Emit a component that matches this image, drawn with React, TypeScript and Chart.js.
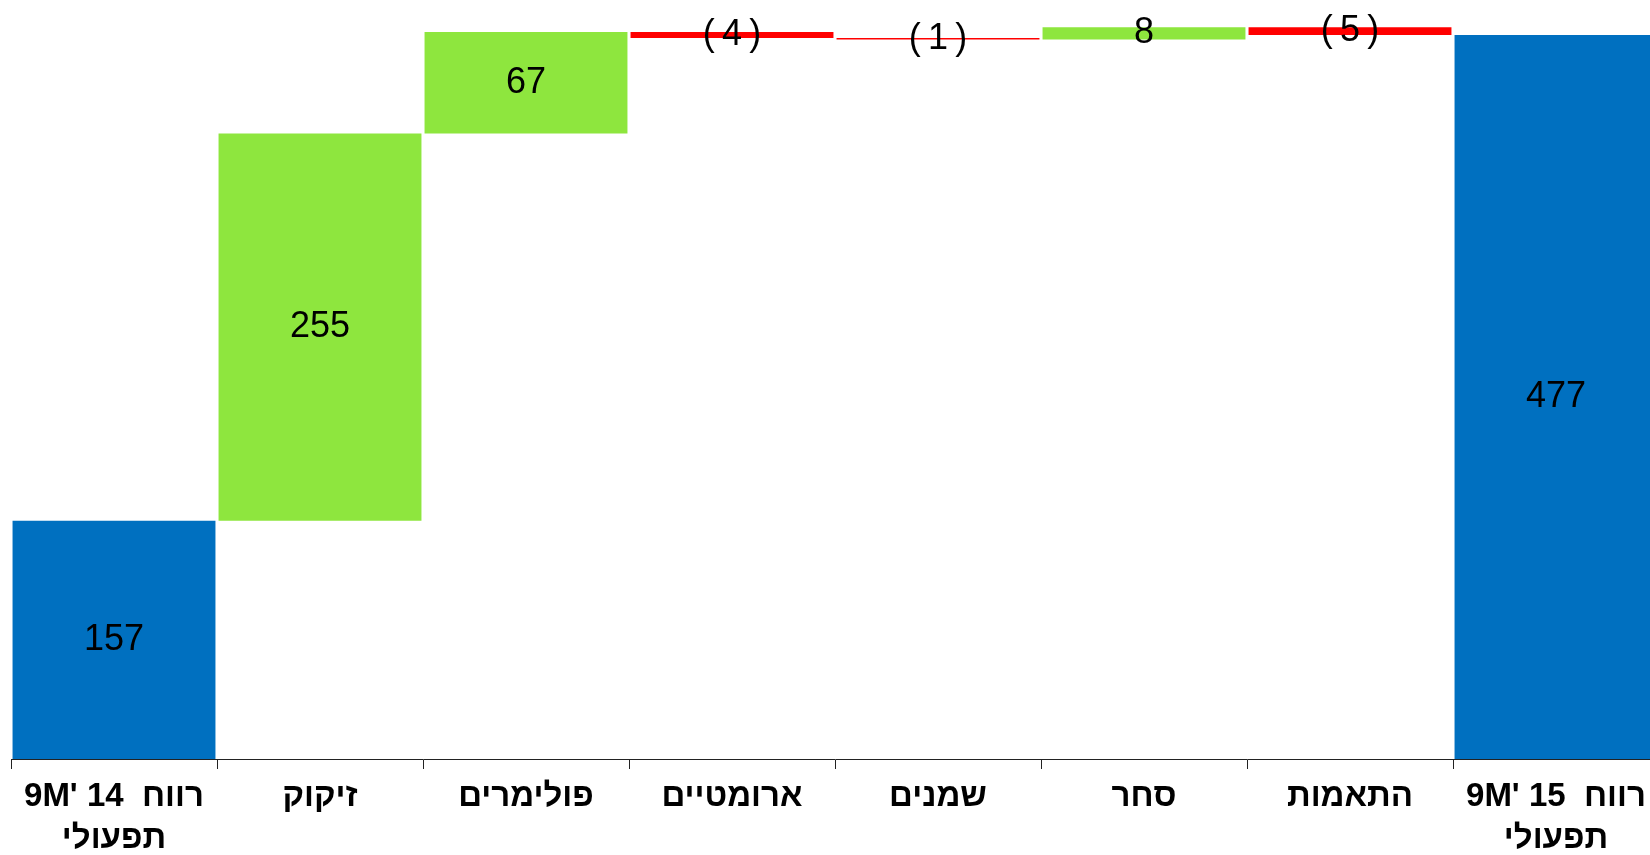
import React, { useEffect, useRef } from 'react';
import { Chart, registerables } from 'chart.js';

Chart.register(...registerables);

// ---- data ----
const categories: (string | string[])[] = [
  ["9M' 14  רווח", 'תפעולי'],
  'זיקוק',
  'פולימרים',
  'ארומטיים',
  'שמנים',
  'סחר',
  'התאמות',
  ["9M' 15  רווח", 'תפעולי'],
];
const startTotal = 157;
const changes = [255, 67, -4, -1, 8, -5];
const endTotal = 477;
const yMin = 0;
const yMax = 500;

const BLUE = '#0070C0';
const GREEN = '#8EE63E';
const RED = '#FF0000';
const FONT = "'Liberation Sans', Arial, sans-serif";

function buildBars() {
  const ranges: [number, number][] = [];
  const values: number[] = [];
  const colors: string[] = [];
  ranges.push([0, startTotal]);
  values.push(startTotal);
  colors.push(BLUE);
  let cum = startTotal;
  for (const c of changes) {
    const next = cum + c;
    ranges.push([Math.min(cum, next), Math.max(cum, next)]);
    values.push(c);
    colors.push(c >= 0 ? GREEN : RED);
    cum = next;
  }
  ranges.push([0, endTotal]);
  values.push(endTotal);
  colors.push(BLUE);
  return { ranges, values, colors };
}

function fmt(v: number) {
  return v < 0 ? `(\u2009${-v}\u2009)` : String(v);
}

const valueLabelPlugin = {
  id: 'valueLabels',
  afterDatasetsDraw(chart: any) {
    const ctx = chart.ctx;
    const meta = chart.getDatasetMeta(0);
    const vals: number[] = chart.data.datasets[0].rawValues;
    ctx.save();
    ctx.font = `36px ${FONT}`;
    ctx.fillStyle = '#000';
    ctx.textAlign = 'center';
    ctx.textBaseline = 'middle';
    meta.data.forEach((el: any, i: number) => {
      const cy = (el.y + el.base) / 2;
      ctx.fillText(fmt(vals[i]), el.x, cy);
    });
    ctx.restore();
  },
};

export default function App() {
  const ref = useRef<HTMLCanvasElement>(null);
  useEffect(() => {
    if (!ref.current) return;
    const { ranges, values, colors } = buildBars();
    const chart = new Chart(ref.current, {
      type: 'bar',
      data: {
        labels: categories,
        datasets: [
          {
            data: ranges as any,
            rawValues: values,
            backgroundColor: colors,
            borderWidth: 0,
            borderSkipped: false,
            barPercentage: 0.985,
            categoryPercentage: 1,
          } as any,
        ],
      },
      options: {
        animation: false,
        responsive: true,
        maintainAspectRatio: false,
        layout: { padding: { left: 11, right: 11, top: 0, bottom: 0 } },
        plugins: { legend: { display: false }, tooltip: { enabled: false } },
        scales: {
          x: {
            grid: {
              drawOnChartArea: false,
              drawTicks: true,
              tickLength: 10,
              color: '#222',
              lineWidth: 1,
            },
            border: { display: true, color: '#222', width: 1 },
            ticks: {
              color: '#000',
              font: { family: FONT, size: 33, weight: 'bold', lineHeight: 1.3 },
              padding: 6,
              maxRotation: 0,
              minRotation: 0,
              autoSkip: false,
            },
            afterFit: (scale: any) => {
              scale.height = 96;
            },
          },
          y: { display: false, min: yMin, max: yMax },
        },
      },
      plugins: [valueLabelPlugin],
    });
    return () => chart.destroy();
  }, []);

  return (
    <div style={{ position: 'absolute', left: 0, top: 0, width: 1650, height: 855, overflow: 'hidden', background: '#fff' }}>
      <div style={{ position: 'relative', width: 1670, height: 855 }}>
        <canvas ref={ref} />
      </div>
    </div>
  );
}
